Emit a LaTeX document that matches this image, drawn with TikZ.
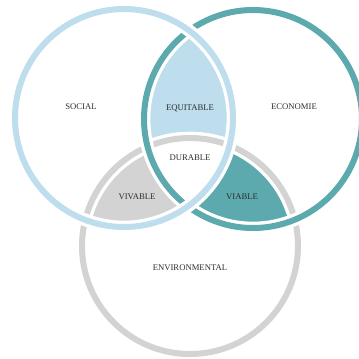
\documentclass[tikz,border=0pt]{standalone}
\usepackage{fontspec}
\setmainfont{Liberation Serif}
\definecolor{socialblue}{RGB}{190,221,237}
\definecolor{ecoteal}{RGB}{92,170,174}
\definecolor{envgray}{RGB}{211,211,211}
\definecolor{labelgray}{RGB}{45,45,45}
\tikzset{every picture/.style={line width=0.75pt}}
\tikzset{
  halo/.style={draw=white,line width=9.5pt},
  ring/.style={line width=4.5pt},
  lbl/.style={inner sep=0.75pt,text=labelgray,font=\fontsize{6.5}{7}\selectfont}
}

\begin{document}
\begin{tikzpicture}[x=0.75pt,y=0.75pt,yscale=-1,xscale=1]
\useasboundingbox (0,0) rectangle (359,358);
\coordinate (soc) at (124,118);
\coordinate (eco) at (253,119);
\coordinate (env) at (190,246);
% Fills of the overlaps
\begin{scope}
\clip (soc) circle (109); \clip (eco) circle (109);
\fill[socialblue] (0,0) rectangle (359,358);
\end{scope}
\begin{scope}
\clip (soc) circle (109); \clip (env) circle (108);
\fill[envgray] (0,0) rectangle (359,358);
\end{scope}
\begin{scope}
\clip (eco) circle (109); \clip (env) circle (108);
\fill[ecoteal] (0,0) rectangle (359,358);
\end{scope}
\begin{scope}
\clip (soc) circle (109); \clip (eco) circle (109); \clip (env) circle (108);
\fill[white] (0,0) rectangle (359,358);
\end{scope}
% Rings
\draw[halo] (env) circle (108);
\draw[ring,envgray] (env) circle (108);
\draw[halo] (eco) circle (109);
\draw[ring,ecoteal] (eco) circle (109);
\draw[halo] (soc) circle (109);
\draw[ring,socialblue] (soc) circle (109);
% Text Node
\node[lbl] (social) at (81,107) {SOCIAL};
\node[lbl] (economie) at (294,107) {ECONOMIE};
\node[lbl] (equitable) at (190,108) {EQUITABLE};
\node[lbl] (durable) at (190,158) {DURABLE};
\node[lbl] (vivable) at (137,197) {VIVABLE};
\node[lbl] (viable) at (242,197) {VIABLE};
\node[lbl] (environmental) at (190,268) {ENVIRONMENTAL};
\end{tikzpicture}
\end{document}
